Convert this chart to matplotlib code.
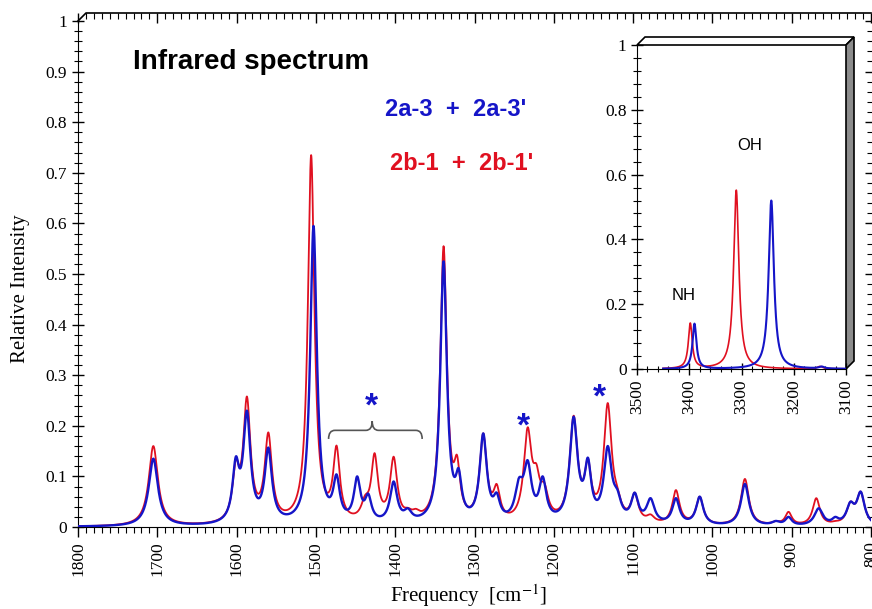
import numpy as np
import matplotlib
matplotlib.use('Agg')
import matplotlib.pyplot as plt
from matplotlib.patches import Polygon, PathPatch
from matplotlib.path import Path
from matplotlib.ticker import MultipleLocator, FuncFormatter
import matplotlib.transforms as mtransforms

plt.rcParams['font.family'] = ['Liberation Serif', 'DejaVu Serif']
plt.rcParams['mathtext.fontset'] = 'stix'

# ---------------- data: peak lists ----------------
# red spectrum (2b-1 + 2b-1'): centre [cm-1], height, half width
red_freq = [1705, 1601, 1587, 1560, 1506, 1474, 1438, 1426, 1402, 1384, 1374,
            1339, 1322, 1289, 1272, 1233, 1222, 1212, 1175, 1157, 1132, 1120,
            1098, 1078, 1046, 1016, 959, 920, 904, 869, 845, 826, 813]
red_height = [0.160, 0.135, 0.258, 0.187, 0.735, 0.161, 0.063, 0.146, 0.139, 0.038, 0.036,
              0.555, 0.142, 0.185, 0.085, 0.197, 0.125, 0.088, 0.220, 0.136, 0.245, 0.080,
              0.068, 0.025, 0.073, 0.060, 0.095, 0.012, 0.030, 0.057, 0.012, 0.050, 0.070]
red_hwhm = [7, 5, 5.5, 5.5, 5, 5, 6, 5, 5.5, 6, 6,
            5, 4.5, 5.5, 5, 6, 5, 6, 6, 5, 6, 6,
            5.5, 6, 5.5, 5.5, 6, 6, 5, 5.5, 6, 6, 6]

# blue spectrum (2a-3 + 2a-3')
blue_freq = [1705, 1601, 1587, 1560, 1503, 1474, 1448, 1434, 1402, 1384,
             1339, 1320, 1289, 1272, 1244, 1233, 1214, 1175, 1157, 1132, 1120,
             1098, 1078, 1046, 1016, 959, 920, 904, 866, 845, 826, 813]
blue_height = [0.135, 0.139, 0.230, 0.157, 0.595, 0.104, 0.100, 0.066, 0.090, 0.037,
               0.525, 0.116, 0.185, 0.068, 0.097, 0.132, 0.100, 0.218, 0.137, 0.160, 0.075,
               0.068, 0.057, 0.057, 0.060, 0.085, 0.012, 0.020, 0.037, 0.020, 0.050, 0.070]
blue_hwhm = [7, 5, 5.5, 5.5, 5, 5, 5, 5, 5.5, 6,
             5, 4.5, 5.5, 5, 6, 6, 5.5, 6, 5, 6, 6,
             5.5, 6, 5.5, 5.5, 6, 6, 5, 6.5, 5, 6, 6]

# inset (NH / OH stretching region)
inset_red_freq = [3398, 3310, 3150]
inset_red_height = [0.142, 0.552, 0.008]
inset_red_hwhm = [4.5, 6, 6]
inset_blue_freq = [3390, 3243, 3147]
inset_blue_height = [0.140, 0.520, 0.008]
inset_blue_hwhm = [4.5, 6, 6]

# annotations
star_freq = [1430, 1238, 1142]
star_int = [0.257, 0.219, 0.276]
brace_freq = [1484, 1429, 1366]
brace_int = [0.174, 0.191, 0.209]

y_ticks_main = [0, 0.1, 0.2, 0.3, 0.4, 0.5, 0.6, 0.7, 0.8, 0.9, 1.0]
x_ticks_main = [1800, 1700, 1600, 1500, 1400, 1300, 1200, 1100, 1000, 900, 800]
y_ticks_inset = [0, 0.2, 0.4, 0.6, 0.8, 1.0]
x_ticks_inset = [3500, 3400, 3300, 3200, 3100]

RED = '#e01020'
BLUE = '#1515c8'


def spectrum(x, c, h, g):
    c, h, g = (np.asarray(v, float) for v in (c, h, g))
    M = 1.0 / (1.0 + ((c[:, None] - c[None, :]) / g[None, :]) ** 2)
    A = np.linalg.solve(M, h)
    return (A[None, :] / (1.0 + ((x[:, None] - c[None, :]) / g[None, :]) ** 2)).sum(axis=1)


fig = plt.figure(figsize=(8.72, 6.09), dpi=100)
W, H = 872.0, 609.0

# ---------------- main axes ----------------
ax = fig.add_axes([78 / W, 1 - 527 / H, 793 / W, 506 / H])
x = np.linspace(1800, 800, 4001)
ax.plot(x, spectrum(x, red_freq, red_height, red_hwhm), color=RED, lw=1.3, zorder=3)
ax.plot(x, spectrum(x, blue_freq, blue_height, blue_hwhm), color=BLUE, lw=1.7, zorder=4)
ax.set_xlim(1800, 800)
ax.set_ylim(0, 1)
ax.spines['top'].set_visible(False)
ax.spines['right'].set_visible(False)
ax.set_yticks(y_ticks_main)
ax.set_xticks(x_ticks_main)
ax.yaxis.set_minor_locator(MultipleLocator(0.02))
ax.xaxis.set_minor_locator(MultipleLocator(10))
fmt = FuncFormatter(lambda v, p: '%g' % v)
ax.yaxis.set_major_formatter(fmt)
ax.tick_params(axis='y', which='major', direction='inout', length=9, width=1, labelsize=12.5, right=True)
ax.tick_params(axis='y', which='minor', direction='inout', length=6, width=0.8, right=True)
ax.tick_params(axis='x', which='major', direction='out', length=7, width=1, labelsize=12.5,
               labelrotation=90, pad=3)
ax.tick_params(axis='x', which='minor', direction='out', length=4, width=0.8)

# top back edge of the box with ticks
dx, dy = 8 / 793, 8 / 506
ax.plot([0, dx, 1], [1, 1 + dy, 1 + dy], transform=ax.transAxes, color='k', lw=1.2, clip_on=False)
sec = ax.secondary_xaxis(1 + dy)
sec.spines['top'].set_visible(False)
sec.xaxis.set_major_locator(MultipleLocator(100))
sec.xaxis.set_minor_locator(MultipleLocator(10))
sec.tick_params(which='major', direction='in', length=7, width=1, labeltop=False)
sec.tick_params(which='minor', direction='in', length=4, width=0.8)

# asterisks
star_tr = mtransforms.offset_copy(ax.transData, fig=fig, y=-19, units='dots')
for f, v in zip(star_freq, star_int):
    ax.text(f, v, '*', transform=star_tr, color=BLUE, fontsize=24, fontweight='bold',
            family='Liberation Sans', ha='center', va='baseline', zorder=5)

# brace
bl, bc, br = brace_freq
yb, ym, yt = brace_int
verts = [(bl, yb), (bl, ym), (bl - 8, ym), (bc + 8, ym), (bc, ym), (bc, yt),
         (bc, ym), (bc - 8, ym), (br + 8, ym), (br, ym), (br, yb)]
codes = [Path.MOVETO, Path.CURVE3, Path.CURVE3, Path.LINETO, Path.CURVE3, Path.CURVE3,
         Path.CURVE3, Path.CURVE3, Path.LINETO, Path.CURVE3, Path.CURVE3]
ax.add_patch(PathPatch(Path(verts, codes), facecolor='none', edgecolor='#555555', lw=1.2, zorder=5))

# ---------------- texts ----------------
fig.text(133 / W, 1 - 62 / H, 'Infrared spectrum', family='Liberation Sans', fontweight='bold',
         fontsize=20, ha='left', va='center')
fig.text(385 / W, 1 - 110 / H, "2a-3  +  2a-3'", family='Liberation Sans', fontweight='bold',
         fontsize=17, color=BLUE, ha='left', va='center')
fig.text(390 / W, 1 - 163 / H, "2b-1  +  2b-1'", family='Liberation Sans', fontweight='bold',
         fontsize=17, color=RED, ha='left', va='center')
fig.text(20 / W, 1 - 289 / H, 'Relative Intensity', fontsize=15, rotation=90, ha='center', va='center')
fig.text(468 / W, 1 - 596 / H, r'Frequency  [cm$^{-1}$]', fontsize=15, ha='center', va='center')

# ---------------- inset ----------------
ax2 = fig.add_axes([637 / W, 1 - 369 / H, 209 / W, 324 / H], zorder=6)
xi = np.linspace(3450, 3100, 2001)
ax2.plot(xi, spectrum(xi, inset_red_freq, inset_red_height, inset_red_hwhm), color=RED, lw=1.2)
ax2.plot(xi, spectrum(xi, inset_blue_freq, inset_blue_height, inset_blue_hwhm), color=BLUE, lw=1.5)
ax2.set_xlim(3500, 3100)
ax2.set_ylim(0, 1)
ax2.spines['top'].set_visible(False)
ax2.spines['right'].set_visible(False)
ax2.set_yticks(y_ticks_inset)
ax2.set_xticks(x_ticks_inset)
ax2.yaxis.set_minor_locator(MultipleLocator(0.04))
ax2.xaxis.set_minor_locator(MultipleLocator(20))
ax2.yaxis.set_major_formatter(fmt)
ax2.tick_params(axis='y', which='major', direction='inout', length=8, width=1, labelsize=12.5)
ax2.tick_params(axis='y', which='minor', direction='inout', length=6, width=0.8)
ax2.tick_params(axis='x', which='major', direction='inout', length=8, width=1, labelsize=12.5,
                labelrotation=90)
ax2.tick_params(axis='x', which='minor', direction='inout', length=5, width=0.8)
ddx, ddy = 8 / 209, 8 / 324
ax2.add_patch(Polygon([(0, 1), (ddx, 1 + ddy), (1 + ddx, 1 + ddy), (1, 1)], closed=True,
                      transform=ax2.transAxes, facecolor='white', edgecolor='k', lw=1.2, clip_on=False))
ax2.add_patch(Polygon([(1, 0), (1, 1), (1 + ddx, 1 + ddy), (1 + ddx, ddy)], closed=True,
                      transform=ax2.transAxes, facecolor='#8c8c8c', edgecolor='k', lw=1.2, clip_on=False))
ax2.text(3410, 0.228, 'NH', family='Liberation Sans', fontsize=12, ha='center', va='center')
ax2.text(3285, 0.69, 'OH', family='Liberation Sans', fontsize=12, ha='center', va='center')

fig.savefig('out.png', dpi=100)
